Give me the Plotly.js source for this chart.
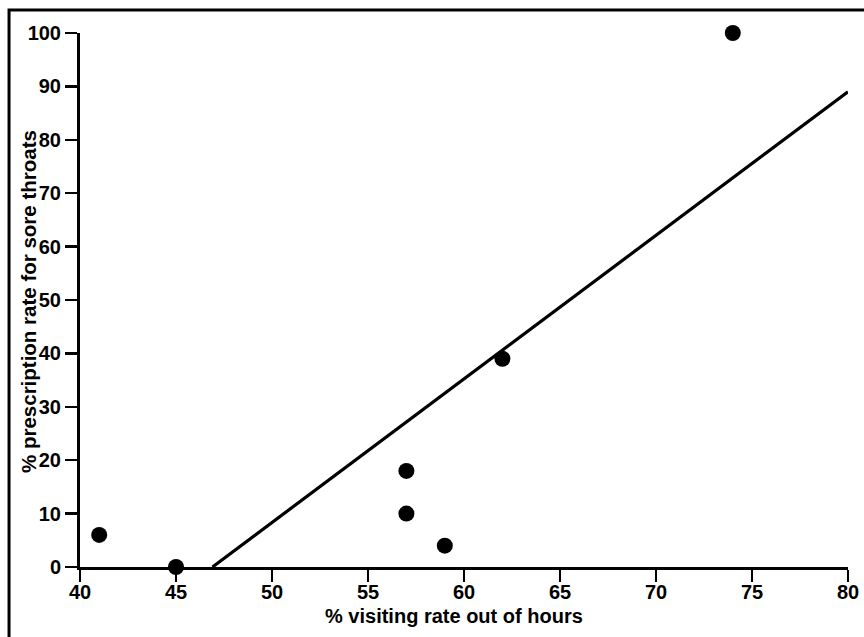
<!DOCTYPE html>
<html>
<head>
<meta charset="utf-8">
<script src="https://cdn.plot.ly/plotly-3.0.1.min.js"></script>
<style>
html,body{margin:0;padding:0;background:#fff;}
#chart{width:864px;height:637px;}
</style>
</head>
<body>
<div id="chart"></div>
<script>
// Data
const visitingRate = [41, 45, 57, 57, 59, 62, 74];
const prescriptionRate = [6, 0, 18, 10, 4, 39, 100];
// Regression line end points
const fitX = [46.9, 80];
const fitY = [0, 89];
const xTicks = [40, 45, 50, 55, 60, 65, 70, 75, 80];
const yTicks = [0, 10, 20, 30, 40, 50, 60, 70, 80, 90, 100];
const xTitle = "% visiting rate out of hours";
const yTitle = "% prescription rate for sore throats";

const FONT = "Liberation Sans, Arial, Helvetica, sans-serif";

const traces = [
  {
    x: fitX, y: fitY, type: "scatter", mode: "lines",
    line: {color: "#000", width: 3.2},
    cliponaxis: false, hoverinfo: "skip", showlegend: false
  },
  {
    x: visitingRate, y: prescriptionRate, type: "scatter", mode: "markers",
    marker: {color: "#000", size: 16, line: {width: 0}},
    cliponaxis: false, showlegend: false
  }
];

const axisCommon = {
  showgrid: false, zeroline: false,
  showline: true, linecolor: "#000", linewidth: 3,
  ticks: "outside", ticklen: 12, tickwidth: 2.5, tickcolor: "#000",
  tickfont: {family: FONT, size: 20, color: "#000", weight: "bold"},
  fixedrange: true
};

const layout = {
  width: 864, height: 637,
  margin: {l: 80, r: 16, t: 33, b: 70},
  paper_bgcolor: "#fff", plot_bgcolor: "#fff",
  xaxis: Object.assign({}, axisCommon, {
    range: [40, 80], tickvals: xTicks, ticktext: xTicks.map(String),
    ticklabelstandoff: -7
  }),
  yaxis: Object.assign({}, axisCommon, {
    range: [0, 100], tickvals: yTicks, ticktext: yTicks.map(String)
  }),
  annotations: [
    {
      text: xTitle, xref: "paper", yref: "paper",
      x: (454 - 80) / 768, y: (567 - 616) / 534,
      xanchor: "center", yanchor: "middle", showarrow: false,
      font: {family: FONT, size: 20, color: "#000", weight: "bold"}
    },
    {
      text: yTitle, xref: "paper", yref: "paper",
      x: (28 - 80) / 768, y: (567 - 302) / 534,
      xanchor: "center", yanchor: "middle", showarrow: false, textangle: -90,
      font: {family: FONT, size: 20.5, color: "#000", weight: "bold"}
    }
  ],
  shapes: [{
    type: "rect", xref: "paper", yref: "paper",
    x0: -0.0924, x1: 1.2, y0: -0.3, y1: 1.043,
    line: {color: "#000", width: 3}, fillcolor: "rgba(0,0,0,0)", layer: "below"
  }]
};

Plotly.newPlot("chart", traces, layout, {staticPlot: true, displayModeBar: false});
</script>
</body>
</html>
